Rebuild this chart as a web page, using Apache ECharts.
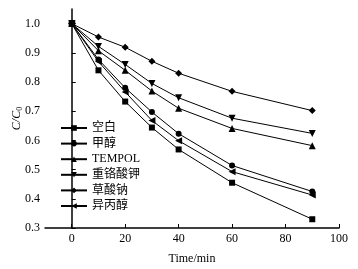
<!DOCTYPE html>
<html>
<head>
<meta charset="UTF-8">
<title></title>
<script src="https://cdn.jsdelivr.net/npm/echarts@6/dist/echarts.min.js"></script>
<style>
* { margin: 0; padding: 0; }
#app { width: 358px; height: 269px; }
</style>
</head>
<body>
<div id="app"></div>
<script>
var times = [0, 10, 20, 30, 40, 60, 90];
var names = ['空白', '甲醇', 'TEMPOL', '重铬酸钾', '草酸钠', '异丙醇'];
var blank = [1.0, 0.84, 0.733, 0.644, 0.569, 0.455, 0.33];
var methanol = [1.0, 0.877, 0.78, 0.697, 0.623, 0.514, 0.425];
var tempol = [1.0, 0.907, 0.84, 0.769, 0.71, 0.641, 0.582];
var dichromate = [1.0, 0.922, 0.86, 0.795, 0.746, 0.676, 0.624];
var oxalate = [1.0, 0.954, 0.919, 0.871, 0.83, 0.768, 0.702];
var isopropanol = [1.0, 0.87, 0.766, 0.668, 0.599, 0.493, 0.413];
var xTicks = [0, 20, 40, 60, 80, 100];
var yTicks = [0.3, 0.4, 0.5, 0.6, 0.7, 0.8, 0.9, 1.0];

var values = [blank, methanol, tempol, dichromate, oxalate, isopropanol];
var symbols = [
  ['rect', 6],
  ['circle', 6],
  ['triangle', 7],
  ['path://M0,0L10,0L5,9Z', 7],
  ['diamond', 7],
  ['path://M0,5L9,0L9,10Z', 7]
];
var font = '"Liberation Serif", "Noto Sans CJK SC", serif';

function pairs(arr) {
  return arr.map(function (v, i) { return [times[i], v]; });
}

var myChart = echarts.init(document.getElementById('app'));
var series = values.map(function (arr, i) {
  return {
    name: names[i],
    type: 'line',
    data: pairs(arr),
    symbol: symbols[i][0],
    symbolSize: symbols[i][1],
    lineStyle: { color: '#000', width: 1 },
    itemStyle: { color: '#000' },
    animation: false
  };
});

myChart.setOption({
  animation: false,
  textStyle: { fontFamily: font },
  grid: { left: 45, right: 19, top: 9, bottom: 41, containLabel: false, outerBoundsMode: 'none' },
  legend: {
    orient: 'vertical',
    left: 60,
    top: 121,
    padding: 0,
    itemWidth: 26,
    itemHeight: 7,
    itemGap: 1.6,
    textStyle: { fontFamily: font, fontSize: 12, lineHeight: 14, color: '#000' },
    data: names
  },
  xAxis: {
    type: 'value',
    min: -10,
    max: 100,
    name: 'Time/min',
    nameLocation: 'middle',
    nameGap: 25,
    nameMoveOverlap: false,
    nameTextStyle: { fontFamily: font, fontSize: 12, color: '#000' },
    splitLine: { show: false },
    axisLine: { lineStyle: { color: '#000', width: 1.5 } },
    axisTick: { inside: true, length: 4, customValues: xTicks, lineStyle: { color: '#000' } },
    axisLabel: { customValues: xTicks, color: '#000', fontSize: 12, fontFamily: font, margin: 5 }
  },
  yAxis: {
    type: 'value',
    min: 0.3,
    max: 1.05,
    name: '{i|C/C}{s|0}',
    nameLocation: 'middle',
    nameGap: 21,
    nameMoveOverlap: false,
    nameTextStyle: {
      color: '#000',
      rich: {
        i: { fontFamily: font, fontSize: 12, fontStyle: 'italic', color: '#000' },
        s: { fontFamily: font, fontSize: 8, color: '#000', padding: [6, 0, 0, 0] }
      }
    },
    splitLine: { show: false },
    axisLine: { show: true, lineStyle: { color: '#000', width: 1.5 } },
    axisTick: { show: true, inside: true, length: 4, customValues: yTicks, lineStyle: { color: '#000' } },
    axisLabel: {
      customValues: yTicks, color: '#000', fontSize: 12, fontFamily: font, margin: 5,
      formatter: function (v) { return v.toFixed(1); }
    }
  },
  series: series
});
</script>
</body>
</html>
